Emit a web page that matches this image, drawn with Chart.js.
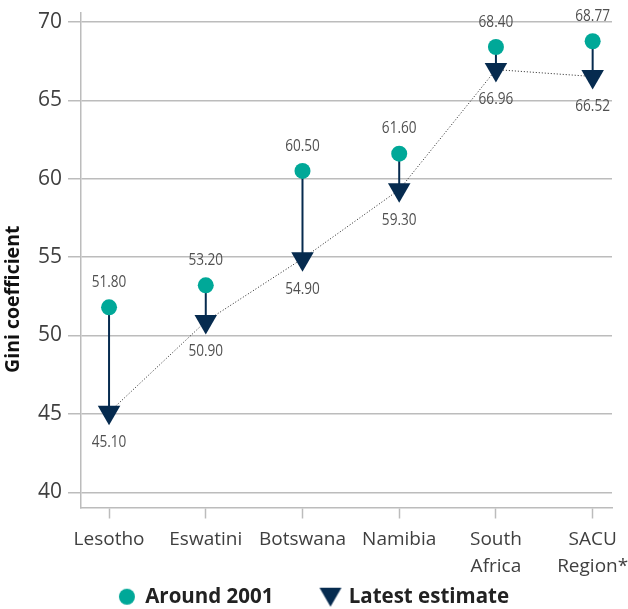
<!DOCTYPE html>
<html>
<head>
<meta charset="utf-8">
<script src="https://cdn.jsdelivr.net/npm/chart.js@4.4.1/dist/chart.umd.min.js"></script>
<style>
html, body { margin: 0; padding: 0; background: #fff; }
#wrap { width: 628px; height: 609px; }
</style>
</head>
<body>
<div id="wrap"><canvas id="gini" width="628" height="609"></canvas></div>
<script>
"use strict";

// dados
var countries = ['Lesotho', 'Eswatini', 'Botswana', 'Namibia', ['South', 'Africa'], ['SACU', 'Region*']];
var around2001 = [51.80, 53.20, 60.50, 61.60, 68.40, 68.77];
var latestEstimate = [45.10, 50.90, 54.90, 59.30, 66.96, 66.52];
var yTicks = [40, 45, 50, 55, 60, 65, 70];

var TEAL = '#00a898';
var NAVY = '#062b4f';
var GRID = '#bcbcbc';
var TEXT = '#3f3f3f';

function toPoints(values) {
    return values.map(function (v, i) { return { x: i, y: v }; });
}

// icones da legenda (tamanhos diferentes para circulo e triangulo)
function legendIcon(kind) {
    var c = document.createElement('canvas');
    c.width = 24; c.height = 22;
    var g = c.getContext('2d');
    g.fillStyle = kind === 'circle' ? TEAL : NAVY;
    g.beginPath();
    if (kind === 'circle') {
        g.arc(12, 11, 8, 0, Math.PI * 2);
    } else {
        g.moveTo(1, 2); g.lineTo(23, 2); g.lineTo(12, 21); g.closePath();
    }
    g.fill();
    return c;
}

// rotulos de valor, fonte estreitada
var valueLabels = {
    id: 'valueLabels',
    afterDatasetsDraw: function (chart) {
        var ctx = chart.ctx;
        chart.data.datasets.forEach(function (ds, i) {
            if (!ds.labelOffset) return;
            chart.getDatasetMeta(i).data.forEach(function (pt, j) {
                ctx.save();
                ctx.font = '17px "Open Sans"';
                ctx.fillStyle = '#505050';
                ctx.textAlign = 'center';
                ctx.textBaseline = 'middle';
                ctx.translate(pt.x, pt.y + ds.labelOffset);
                ctx.scale(0.8, 1);
                ctx.fillText(ds.data[j].y.toFixed(2), 0, 0);
                ctx.restore();
            });
        });
    }
};

var datasets = [{
    label: 'Around 2001',
    data: toPoints(around2001),
    showLine: false,
    pointStyle: 'circle',
    pointRadius: 8,
    backgroundColor: TEAL,
    borderColor: TEAL,
    pointBorderWidth: 0,
    labelOffset: -25,
    order: 0
}, {
    label: 'Latest estimate',
    data: toPoints(latestEstimate),
    showLine: true,
    borderColor: '#222222',
    borderWidth: 1,
    borderDash: [1, 2],
    pointStyle: 'triangle',
    pointRotation: 180,
    pointRadius: 13,
    pointBackgroundColor: NAVY,
    pointBorderColor: NAVY,
    pointBorderWidth: 0,
    labelOffset: 30,
    order: 1
}];

// hastes verticais ligando as duas estimativas
countries.forEach(function (c, i) {
    datasets.push({
        label: '',
        data: [{ x: i, y: around2001[i] }, { x: i, y: latestEstimate[i] }],
        showLine: true,
        borderColor: NAVY,
        borderWidth: 2,
        pointRadius: 0,
        order: 2
    });
});

new Chart('gini', {
    type: 'scatter',
    data: { datasets: datasets },
    plugins: [valueLabels],
    options: {
        responsive: false,
        animation: false,
        events: [],
        layout: { padding: { top: 4, right: 0, left: 0, bottom: -8 } },
        scales: {
            x: {
                type: 'linear',
                min: -0.29,
                max: 5.2,
                afterBuildTicks: function (axis) {
                    axis.ticks = countries.map(function (c, i) { return { value: i }; });
                },
                afterFit: function (axis) {
                    axis.height = 71;
                    axis.paddingLeft = 0;
                    axis.paddingRight = 16;
                },
                grid: { drawOnChartArea: false, color: GRID, tickLength: 11, tickWidth: 1.5 },
                border: { color: GRID, width: 1.5 },
                ticks: {
                    autoSkip: false,
                    maxRotation: 0,
                    padding: 8,
                    color: TEXT,
                    font: { family: '"Open Sans"', size: 19, lineHeight: 1.42 },
                    callback: function (v) { return countries[v]; }
                }
            },
            y: {
                min: 39.03,
                max: 70.57,
                afterBuildTicks: function (axis) {
                    axis.ticks = yTicks.map(function (v) { return { value: v }; });
                },
                afterFit: function (axis) {
                    axis.width = 81;
                    axis.paddingTop = 0;
                    axis.paddingBottom = 0;
                },
                grid: { color: GRID, lineWidth: 1.5, tickLength: 13 },
                border: { color: GRID, width: 1.5 },
                ticks: {
                    padding: 6,
                    color: TEXT,
                    font: { family: '"Open Sans"', size: 21 }
                },
                title: {
                    display: true,
                    text: 'Gini coefficient\u2003\u2003\u2003\u2003',
                    color: '#111111',
                    padding: { top: 2, bottom: 2 },
                    font: { family: '"Open Sans"', size: 19.5, weight: 'bold' }
                }
            }
        },
        plugins: {
            tooltip: { enabled: false },
            legend: {
                position: 'bottom',
                labels: {
                    usePointStyle: true,
                    boxWidth: 16,
                    padding: 8,
                    color: '#222222',
                    font: { family: '"Open Sans"', size: 20.5, weight: 'bold' },
                    generateLabels: function (chart) {
                        var items = Chart.defaults.plugins.legend.labels.generateLabels(chart);
                        items.forEach(function (it) {
                            it.pointStyle = legendIcon(it.text === 'Around 2001' ? 'circle' : 'triangle');
                            it.rotation = 0;
                            if (it.text === 'Around 2001') it.text += '\u2003\u2003';
                        });
                        return items.filter(function (it) { return it.text !== ''; });
                    }
                }
            }
        }
    }
});
</script>
</body>
</html>
